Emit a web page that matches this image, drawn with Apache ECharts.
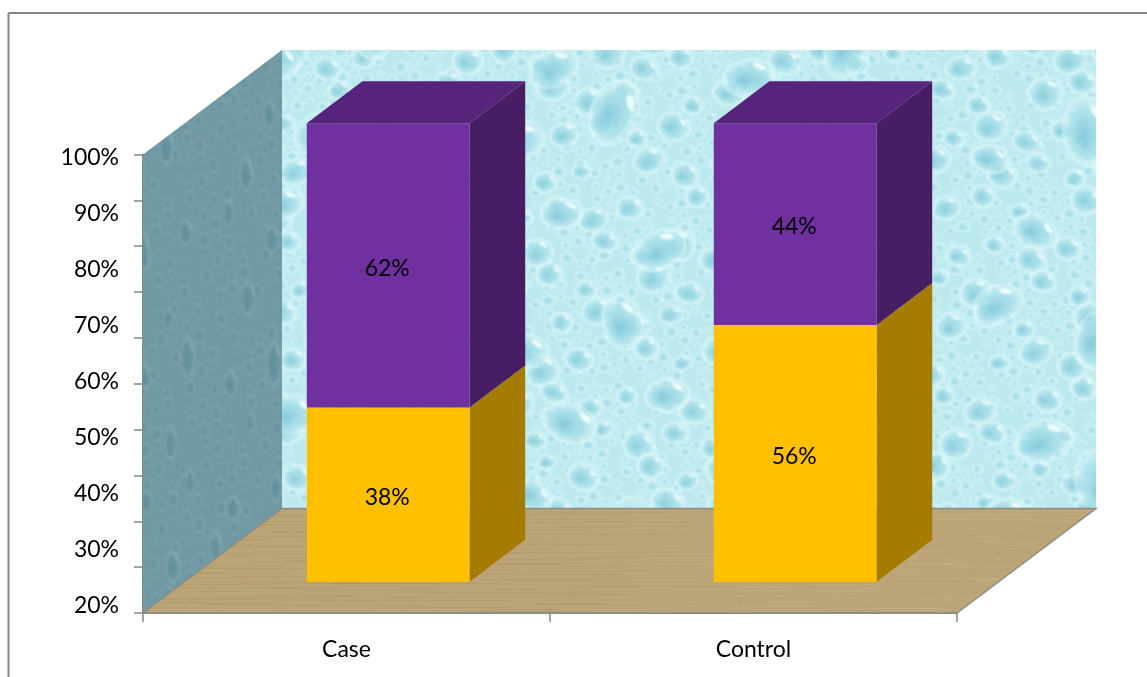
<!DOCTYPE html>
<html>
<head>
<meta charset="utf-8">
<style>html,body{margin:0;padding:0;background:#fff}#c{width:1147px;height:677px}</style>
<script src="https://cdn.jsdelivr.net/npm/echarts@6/dist/echarts.min.js"></script>
</head>
<body>
<div id="c"></div>
<script>
var categories = ['Case', 'Control'];
var lowerValues = [38, 56];
var upperValues = [62, 44];
var shownTickLabels = ['20%', '30%', '40%', '50%', '60%', '70%', '80%', '90%', '100%'];

var FONT = 'Lato, "Open Sans", sans-serif';
var DEPTH_X = 139, DEPTH_Y = -104.5;

function frac(v){ return v - Math.floor(v); }
function halton(i, b){ var f = 1, r = 0; while (i > 0){ f /= b; r += f * (i % b); i = Math.floor(i / b); } return r; }
function makeCanvas(w, h, base){
  var c = document.createElement('canvas'); c.width = w; c.height = h;
  var g = c.getContext('2d'); g.fillStyle = base; g.fillRect(0, 0, w, h);
  return c;
}
function soften(c, px){
  var o = document.createElement('canvas'); o.width = c.width; o.height = c.height;
  var g = o.getContext('2d'); g.filter = 'blur(' + px + 'px)'; g.drawImage(c, 0, 0);
  return o;
}
function drop(g, x, y, rx, ry, ang, core, mid, halo, hi){
  g.save(); g.translate(x, y); g.rotate(ang); g.scale(rx, ry);
  var rg = g.createRadialGradient(-0.25, 0.15, 0.05, 0, 0, 1);
  rg.addColorStop(0, core); rg.addColorStop(0.75, mid); rg.addColorStop(1, 'rgba(255,255,255,0)');
  g.beginPath(); g.arc(0, 0, 1, 0, Math.PI * 2); g.fillStyle = rg; g.fill();
  g.beginPath(); g.arc(0, 0, 1.03, 0, Math.PI * 2); g.strokeStyle = halo; g.lineWidth = 2 / Math.max(rx, ry); g.stroke();
  g.beginPath(); g.ellipse(0.48, -0.5, 0.3, 0.13, 0.75, 0, Math.PI * 2); g.fillStyle = hi; g.fill();
  g.restore();
}
function jittered(w, h, cw, ch, fn){
  var n = 0;
  for (var yy = 0; yy < h; yy += ch){
    for (var xx = 0; xx < w; xx += cw){
      n++;
      fn(xx + cw * (0.15 + 0.7 * frac(n * 0.7549)), yy + ch * (0.15 + 0.7 * frac(n * 0.5698)), n);
    }
  }
}
function backTexture(){
  var c = makeCanvas(1147, 677, '#bce9ee'), g = c.getContext('2d');
  jittered(1147, 677, 15, 14, function (x, y, n){
    var s = 2.5 + 4 * frac(n * 0.37);
    drop(g, x, y, s, s * 0.85, 0, 'rgba(145,210,224,0.65)', 'rgba(175,228,236,0.45)', 'rgba(224,250,250,0.6)', 'rgba(240,255,255,0.65)');
  });
  jittered(1147, 677, 44, 38, function (x, y, n){
    var r = 9 + 8 * frac(n * 0.73);
    drop(g, x, y, r, r * (0.72 + 0.25 * frac(n * 0.41)), -0.35 + 0.7 * frac(n * 0.618),
      'rgba(128,200,218,0.8)', 'rgba(170,225,234,0.6)', 'rgba(222,250,250,0.75)', 'rgba(245,255,255,0.85)');
  });
  jittered(1147, 677, 118, 92, function (x, y, n){
    var q = 18 + 10 * frac(n * 0.53), tall = n % 4 === 0;
    drop(g, x, y, q, q * (tall ? 1.4 : 0.72), -0.5 + 1.0 * frac(n * 0.618),
      'rgba(125,197,217,0.85)', 'rgba(172,226,235,0.65)', 'rgba(224,250,250,0.8)', 'rgba(245,255,255,0.9)');
  });
  return soften(c, 0.8);
}
function sideTexture(){
  var c = makeCanvas(300, 677, '#7199a3'), g = c.getContext('2d');
  jittered(300, 677, 15, 19, function (x, y, n){
    var s = 2.5 + 3 * frac(n * 0.37);
    drop(g, x, y, s, s * 1.5, 0, 'rgba(92,142,156,0.55)', 'rgba(104,148,160,0.4)', 'rgba(135,170,178,0.3)', 'rgba(140,178,186,0.35)');
  });
  jittered(300, 677, 52, 66, function (x, y, n){
    var rx = 5 + 3 * frac(n * 0.61);
    drop(g, x, y, rx, rx * (1.7 + 1.3 * frac(n * 0.47)), 0, 'rgba(84,136,152,0.65)', 'rgba(98,146,160,0.5)', 'rgba(130,168,176,0.35)', 'rgba(150,188,194,0.45)');
  });
  return soften(c, 0.9);
}
function floorTexture(){
  var c = makeCanvas(1147, 677, '#bba476'), g = c.getContext('2d'), i;
  for (i = 0; i < 1400; i++){
    var x = 1147 * halton(i + 1, 2), y = 677 * halton(i + 1, 3), len = 40 + 160 * frac(i * 0.37);
    g.strokeStyle = i % 2 ? 'rgba(140,115,70,0.15)' : 'rgba(215,195,150,0.18)';
    g.lineWidth = 1; g.beginPath(); g.moveTo(x, Math.round(y) + 0.5); g.lineTo(x + len, Math.round(y) + 0.5); g.stroke();
  }
  for (i = 0; i < 260; i++){
    var ax = 1147 * halton(i + 1, 5), ay = 677 * halton(i + 1, 7), dl = 30 + 60 * frac(i * 0.59);
    g.strokeStyle = i % 2 ? 'rgba(150,122,75,0.07)' : 'rgba(210,190,145,0.07)';
    g.lineWidth = 2; g.beginPath(); g.moveTo(ax, ay); g.lineTo(ax + dl, ay - dl * 0.72); g.stroke();
  }
  return soften(c, 0.5);
}
var backFill = { image: backTexture(), repeat: 'no-repeat' };
var sideFill = { image: sideTexture(), repeat: 'no-repeat' };
var floorFill = { image: floorTexture(), repeat: 'no-repeat' };

function pts(){ return Array.prototype.slice.call(arguments); }

function renderWalls(params, api){
  var band = api.size([1, 0])[0];
  var bottom = api.coord([0, 0]), top = api.coord([0, 100]);
  var x0 = bottom[0] - band / 2, x1 = x0 + band * categories.length, y0 = bottom[1], y1 = top[1];
  var bx0 = x0 + DEPTH_X, bx1 = x1 + DEPTH_X, by0 = y0 + DEPTH_Y, by1 = y1 + DEPTH_Y;
  return { type: 'group', silent: true, children: [
    { type: 'polygon', shape: { points: pts([bx0, by1], [bx1, by1], [bx1, by0], [bx0, by0]) }, style: { fill: backFill } },
    { type: 'polygon', shape: { points: pts([x0, y1], [bx0, by1], [bx0, by0], [x0, y0]) }, style: { fill: sideFill } },
    { type: 'polygon', shape: { points: pts([x0, y0], [bx0, by0], [bx1, by0], [x1, y0]) }, style: { fill: floorFill, stroke: '#8c8c84', lineWidth: 1.5 } }
  ] };
}

function barRenderer(front, side, topColor){
  return function (params, api){
    var idx = api.value(0), lo = api.value(1), hi = api.value(2);
    var band = api.size([1, 0])[0];
    var a = api.coord([idx, lo]), b = api.coord([idx, hi]);
    var ox = DEPTH_X * 0.3, oy = DEPTH_Y * 0.3, w = band * 0.4, dx = DEPTH_X * 0.4, dy = DEPTH_Y * 0.4;
    var l = a[0] + ox - w / 2, r = l + w, yb = a[1] + oy, yt = b[1] + oy;
    var kids = [
      { type: 'polygon', shape: { points: pts([r, yt], [r + dx, yt + dy], [r + dx, yb + dy], [r, yb]) }, style: { fill: side } },
      { type: 'polygon', shape: { points: pts([l, yb], [r, yb], [r, yt], [l, yt]) }, style: { fill: front } }
    ];
    if (hi >= 100) kids.push({ type: 'polygon', shape: { points: pts([l, yt], [l + dx, yt + dy], [r + dx, yt + dy], [r, yt]) }, style: { fill: topColor } });
    kids.push({ type: 'text', style: { text: (hi - lo) + '%', x: (l + r) / 2 - 1, y: (yt + yb) / 2 + 3, align: 'center', verticalAlign: 'middle', font: '23px ' + FONT, fill: '#000' } });
    return { type: 'group', children: kids };
  };
}

var lowerRows = categories.map(function (c, i){ return [i, 0, lowerValues[i]]; });
var upperRows = categories.map(function (c, i){ return [i, lowerValues[i], lowerValues[i] + upperValues[i]]; });

var chart = echarts.init(document.getElementById('c'), null, { renderer: 'canvas' });
chart.setOption({
  animation: false,
  backgroundColor: '#fff',
  graphic: [
    { type: 'line', shape: { x1: 8.5, y1: 13, x2: 1147, y2: 13 }, style: { stroke: '#868686', lineWidth: 2 }, silent: true },
    { type: 'line', shape: { x1: 8.5, y1: 13, x2: 8.5, y2: 677 }, style: { stroke: '#868686', lineWidth: 2 }, silent: true }
  ],
  grid: [
    { left: 143, right: 190, top: 154.5, bottom: 64 },
    { left: 143, right: 190, top: 158, bottom: 71 }
  ],
  xAxis: [
    { type: 'category', gridIndex: 0, data: categories,
      axisLine: { lineStyle: { color: '#868686', width: 2 } },
      axisTick: { show: true, alignWithLabel: false, length: 9, lineStyle: { color: '#868686', width: 1.5 } },
      axisLabel: { color: '#000', fontFamily: FONT, fontSize: 23, margin: 25 } },
    { type: 'value', gridIndex: 1, show: false }
  ],
  yAxis: [
    { type: 'value', gridIndex: 0, min: 0, max: 100, interval: 10,
      axisLine: { show: true, lineStyle: { color: '#868686', width: 2 } },
      axisTick: { show: true, length: 9, lineStyle: { color: '#868686', width: 1.5 } },
      axisLabel: { show: false }, splitLine: { show: false } },
    { type: 'category', gridIndex: 1, data: shownTickLabels, boundaryGap: false,
      axisLine: { show: false }, axisTick: { show: false }, splitLine: { show: false },
      axisLabel: { color: '#000', fontFamily: FONT, fontSize: 23, margin: 24, interval: 0 } }
  ],
  series: [
    { type: 'custom', name: 'walls', xAxisIndex: 0, yAxisIndex: 0, z: 1, clip: false, data: [[0, 0, 100]], renderItem: renderWalls, encode: { x: 0, y: 2 } },
    { type: 'custom', name: 'lower', xAxisIndex: 0, yAxisIndex: 0, z: 3, clip: false, data: lowerRows, renderItem: barRenderer('#ffc000', '#a67c00', '#b38600'), encode: { x: 0, y: [1, 2] } },
    { type: 'custom', name: 'upper', xAxisIndex: 0, yAxisIndex: 0, z: 4, clip: false, data: upperRows, renderItem: barRenderer('#7030a0', '#471e63', '#57247b'), encode: { x: 0, y: [1, 2] } }
  ]
});
</script>
</body>
</html>
